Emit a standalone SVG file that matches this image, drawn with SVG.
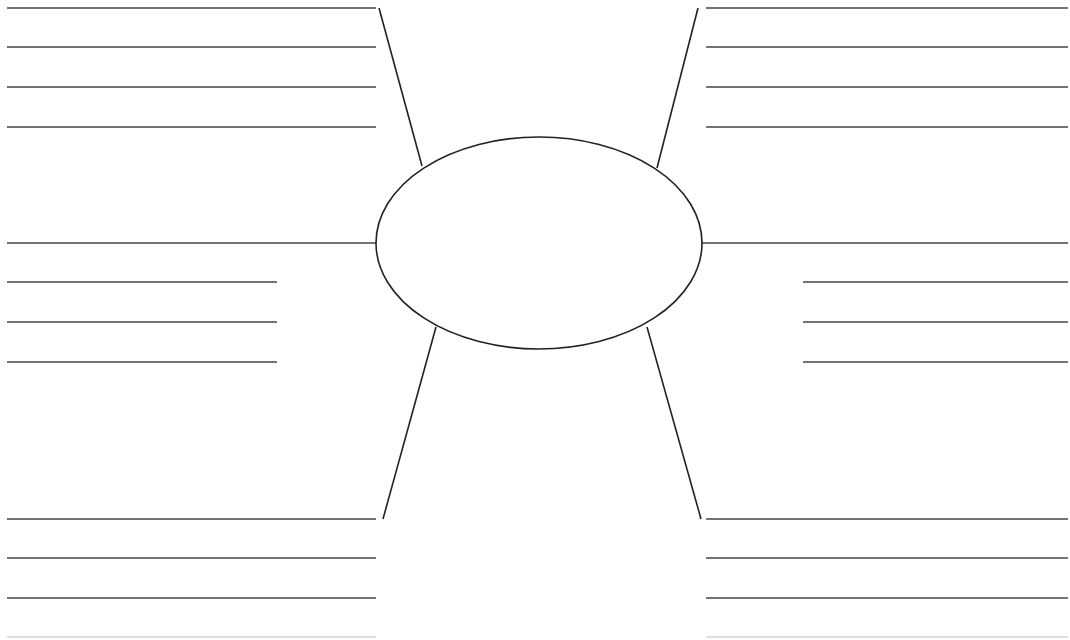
<svg xmlns="http://www.w3.org/2000/svg" width="1070" height="640" viewBox="0 0 1070 640">
<style>
.ln{stroke:#444;stroke-width:1.6;fill:none}
.lt{stroke:#d4d4d4;stroke-width:1.6;fill:none}
.sp{stroke:#222;stroke-width:1.6;fill:none}
.hub{stroke:#222;stroke-width:1.6;fill:#fff}
</style>
<rect width="1070" height="640" fill="#fff"/>
<g id="connectors">
<line class="sp" x1="379" y1="8" x2="422" y2="166"/>
<line class="sp" x1="698" y1="8" x2="657" y2="168"/>
<line class="sp" x1="436" y1="327" x2="383" y2="519"/>
<line class="sp" x1="647" y1="327" x2="701" y2="519"/>
<line class="ln" x1="7" y1="243" x2="376" y2="243"/>
<line class="ln" x1="702" y1="243" x2="1068" y2="243"/>
</g>
<g id="hub"><ellipse class="hub" cx="539" cy="243" rx="163" ry="106"/></g>
<g id="top-left">
<line class="ln" x1="7" y1="8" x2="376" y2="8"/>
<line class="ln" x1="7" y1="47" x2="376" y2="47"/>
<line class="ln" x1="7" y1="87" x2="376" y2="87"/>
<line class="ln" x1="7" y1="127" x2="376" y2="127"/>
</g>
<g id="top-right">
<line class="ln" x1="706" y1="8" x2="1068" y2="8"/>
<line class="ln" x1="706" y1="47" x2="1068" y2="47"/>
<line class="ln" x1="706" y1="87" x2="1068" y2="87"/>
<line class="ln" x1="706" y1="127" x2="1068" y2="127"/>
</g>
<g id="mid-left">
<line class="ln" x1="7" y1="282" x2="277" y2="282"/>
<line class="ln" x1="7" y1="322" x2="277" y2="322"/>
<line class="ln" x1="7" y1="362" x2="277" y2="362"/>
</g>
<g id="mid-right">
<line class="ln" x1="803" y1="282" x2="1068" y2="282"/>
<line class="ln" x1="803" y1="322" x2="1068" y2="322"/>
<line class="ln" x1="803" y1="362" x2="1068" y2="362"/>
</g>
<g id="bottom-left">
<line class="ln" x1="7" y1="519" x2="376" y2="519"/>
<line class="ln" x1="7" y1="558" x2="376" y2="558"/>
<line class="ln" x1="7" y1="598" x2="376" y2="598"/>
<line class="lt" x1="7" y1="637" x2="376" y2="637"/>
</g>
<g id="bottom-right">
<line class="ln" x1="706" y1="519" x2="1068" y2="519"/>
<line class="ln" x1="706" y1="558" x2="1068" y2="558"/>
<line class="ln" x1="706" y1="598" x2="1068" y2="598"/>
<line class="lt" x1="706" y1="637" x2="1068" y2="637"/>
</g>
</svg>
